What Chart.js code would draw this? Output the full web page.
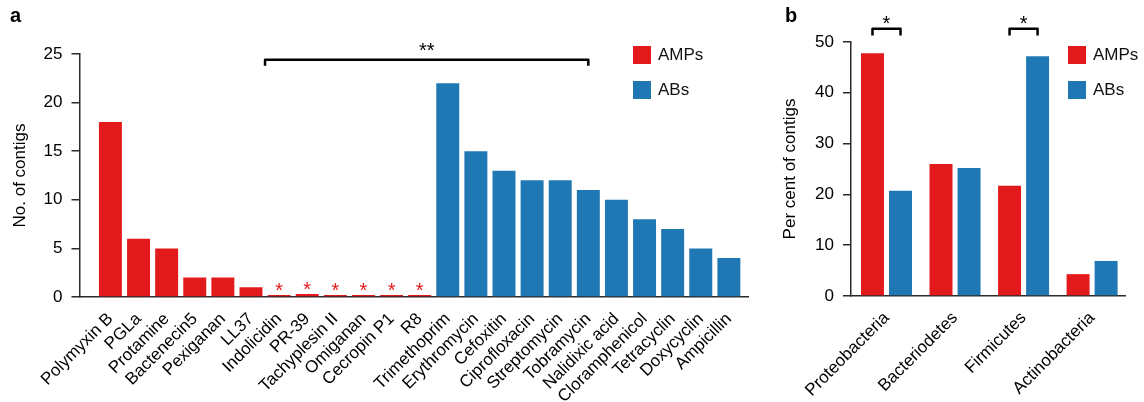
<!DOCTYPE html>
<html><head><meta charset="utf-8">
<script src="https://cdn.jsdelivr.net/npm/chart.js@4.4.1/dist/chart.umd.min.js"></script>
<style>
html,body{margin:0;padding:0;background:#fff;}
#wrap{position:relative;width:1144px;height:402px;overflow:hidden;background:#fff;}
canvas{position:absolute;top:0;}
</style></head><body>
<div id="wrap">
<canvas id="ca" style="left:0;width:760px;height:402px"></canvas>
<canvas id="cb" style="left:760px;width:384px;height:402px"></canvas>
</div>
<script>
// ---------- Panel a data ----------
const ampNames = ['Polymyxin B','PGLa','Protamine','Bactenecin5','Pexiganan','LL37','Indolicidin','PR-39','Tachyplesin II','Omiganan','Cecropin P1','R8'];
const abNames = ['Trimethoprim','Erythromycin','Cefoxitin','Ciprofloxacin','Streptomycin','Tobramycin','Nalidixic acid','Cloramphenicol','Tetracyclin','Doxycyclin','Ampicillin'];
const ampCounts = [18, 6, 5, 2, 2, 1, 0.2, 0.3, 0.2, 0.2, 0.2, 0.2];
const abCounts = [22, 15, 13, 12, 12, 11, 10, 8, 7, 5, 4];
const ampStarred = [false,false,false,false,false,false,true,true,true,true,true,true];
const aYTicks = [0, 5, 10, 15, 20, 25];
const aBracket = {from: 5.5, to: 17, label: '**'};

// ---------- Panel b data ----------
const phyla = ['Proteobacteria','Bacteriodetes','Firmicutes','Actinobacteria'];
const phylaAmp = [47.8, 26.0, 21.7, 4.3];
const phylaAb = [20.7, 25.2, 47.2, 6.9];
const phylaSignificant = [true, false, true, false];
const bYTicks = [0, 10, 20, 30, 40, 50];

const RED = '#E31A1C', BLUE = '#1F78B4', AX = '#2b2b2b';
const FONT = '"Liberation Sans", Arial, Helvetica, sans-serif';
const aCategories = ampNames.concat(abNames);

function legendPlugin(x, y) {
  return {
    id: 'customLegend',
    afterDraw(chart) {
      const ctx = chart.ctx;
      ctx.save();
      chart.data.datasets.forEach((ds, k) => {
        ctx.fillStyle = ds.backgroundColor;
        ctx.fillRect(x, y + k * 35, 18, 18);
        ctx.fillStyle = '#111';
        ctx.font = '17px ' + FONT;
        ctx.textBaseline = 'middle';
        ctx.textAlign = 'left';
        ctx.fillText(ds.label, x + 25, y + k * 35 + 9.5);
      });
      ctx.restore();
    }
  };
}

function panelLetter(letter, x, y) {
  return {
    id: 'letter',
    afterDraw(chart) {
      const ctx = chart.ctx;
      ctx.save();
      ctx.fillStyle = '#000';
      ctx.font = 'bold 20px ' + FONT;
      ctx.textBaseline = 'alphabetic';
      ctx.textAlign = 'left';
      ctx.fillText(letter, x, y);
      ctx.restore();
    }
  };
}

const annotA = {
  id: 'annotA',
  afterDraw(chart) {
    const ctx = chart.ctx, xs = chart.scales.x, ys = chart.scales.y;
    ctx.save();
    ctx.font = '20px ' + FONT;
    ctx.textAlign = 'center';
    ctx.textBaseline = 'alphabetic';
    ctx.fillStyle = RED;
    ampStarred.forEach((s, i) => {
      if (!s) return;
      const cx = xs.getPixelForValue(i);
      const cy = ys.getPixelForValue(ampCounts[i]) - 9;
      ctx.fillText('*', cx, cy + 11);
    });
    // bracket
    const x1 = xs.getPixelForValue(aBracket.from), x2 = xs.getPixelForValue(aBracket.to);
    const yb = ys.getPixelForValue(24.4), yd = ys.getPixelForValue(23.8);
    ctx.strokeStyle = '#000';
    ctx.lineWidth = 2.5;
    ctx.lineJoin = 'round';
    ctx.beginPath();
    ctx.moveTo(x1, yd); ctx.lineTo(x1, yb); ctx.lineTo(x2, yb); ctx.lineTo(x2, yd);
    ctx.stroke();
    ctx.fillStyle = '#000';
    ctx.fillText(aBracket.label, (x1 + x2) / 2, ys.getPixelForValue(25.8) + 11);
    ctx.restore();
  }
};

const annotB = {
  id: 'annotB',
  afterDraw(chart) {
    const ctx = chart.ctx, xs = chart.scales.x, ys = chart.scales.y;
    const m0 = chart.getDatasetMeta(0), m1 = chart.getDatasetMeta(1);
    ctx.save();
    ctx.strokeStyle = '#000';
    ctx.fillStyle = '#000';
    ctx.lineWidth = 2.5;
    ctx.lineJoin = 'round';
    ctx.font = '20px ' + FONT;
    ctx.textAlign = 'center';
    ctx.textBaseline = 'alphabetic';
    phylaSignificant.forEach((s, i) => {
      if (!s) return;
      const x1 = m0.data[i].x, x2 = m1.data[i].x;
      const yb = ys.getPixelForValue(52.6), yd = ys.getPixelForValue(51.3);
      ctx.beginPath();
      ctx.moveTo(x1, yd); ctx.lineTo(x1, yb); ctx.lineTo(x2, yb); ctx.lineTo(x2, yd);
      ctx.stroke();
      ctx.fillText('*', (x1 + x2) / 2, ys.getPixelForValue(54.6) + 11);
    });
    ctx.restore();
  }
};

const tickFont = {family: FONT, size: 17};

// ---------- Chart a ----------
new Chart(document.getElementById('ca'), {
  type: 'bar',
  data: {
    datasets: [
      {label: 'AMPs', backgroundColor: RED, data: ampCounts.map((v, i) => ({x: i, y: v}))},
      {label: 'ABs', backgroundColor: BLUE, data: abCounts.map((v, i) => ({x: i + ampCounts.length, y: v}))}
    ]
  },
  options: {
    responsive: false, animation: false, devicePixelRatio: 1,
    layout: {padding: {top: 54, right: 12, left: 0, bottom: 0}},
    plugins: {legend: {display: false}, tooltip: {enabled: false}},
    datasets: {bar: {grouped: false, categoryPercentage: 1, barPercentage: 0.817}},
    scales: {
      x: {
        type: 'linear', min: -1.1, max: 22.68, offset: false,
        afterBuildTicks: s => { s.ticks = aCategories.map((_, i) => ({value: i})); },
        afterFit: s => { s.height = 105; },
        grid: {display: false},
        border: {display: true, color: AX, width: 1.5},
        ticks: {autoSkip: false, minRotation: 45, maxRotation: 45, padding: 4, color: '#000', font: tickFont,
                callback: v => aCategories[v]}
      },
      y: {
        min: 0, max: 25,
        afterBuildTicks: s => { s.ticks = aYTicks.map(v => ({value: v})); },
        afterFit: s => { s.width = 79.5; },
        grid: {drawOnChartArea: false, drawTicks: true, tickLength: 8, color: AX, lineWidth: 1.5},
        border: {display: true, color: AX, width: 1.5},
        ticks: {padding: 9, color: '#000', font: tickFont},
        title: {display: true, text: 'No. of contigs', color: '#000', font: {family: FONT, size: 17}, padding: {top: 10, bottom: 0}}
      }
    }
  },
  plugins: [annotA, legendPlugin(633, 46), panelLetter('a', 10, 22)]
});

// ---------- Chart b ----------
new Chart(document.getElementById('cb'), {
  type: 'bar',
  data: {
    datasets: [
      {label: 'AMPs', backgroundColor: RED, data: phylaAmp.map((v, i) => ({x: i, y: v}))},
      {label: 'ABs', backgroundColor: BLUE, data: phylaAb.map((v, i) => ({x: i, y: v}))}
    ]
  },
  options: {
    responsive: false, animation: false, devicePixelRatio: 1,
    layout: {padding: {top: 42, right: 19, left: 0, bottom: 0}},
    plugins: {legend: {display: false}, tooltip: {enabled: false}},
    datasets: {bar: {categoryPercentage: 0.818, barPercentage: 0.82}},
    scales: {
      x: {
        type: 'linear', min: -0.518, max: 3.48, offset: false,
        afterBuildTicks: s => { s.ticks = phyla.map((_, i) => ({value: i})); },
        afterFit: s => { s.height = 106; },
        grid: {display: false},
        border: {display: true, color: AX, width: 1.5},
        ticks: {autoSkip: false, minRotation: 45, maxRotation: 45, padding: 4, color: '#000', font: tickFont,
                callback: v => phyla[v]}
      },
      y: {
        min: 0, max: 50,
        afterBuildTicks: s => { s.ticks = bYTicks.map(v => ({value: v})); },
        afterFit: s => { s.width = 91; },
        grid: {drawOnChartArea: false, drawTicks: true, tickLength: 8, color: AX, lineWidth: 1.5},
        border: {display: true, color: AX, width: 1.5},
        ticks: {padding: 9, color: '#000', font: tickFont},
        title: {display: true, text: 'Per cent of contigs', color: '#000', font: {family: FONT, size: 17}, padding: {top: 20, bottom: 0}}
      }
    }
  },
  plugins: [annotB, legendPlugin(308, 46), panelLetter('b', 25, 22)]
});
</script>
</body></html>
